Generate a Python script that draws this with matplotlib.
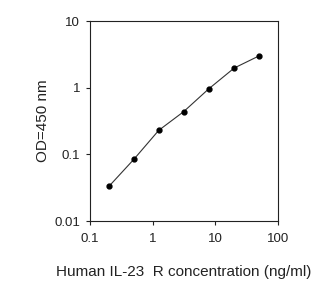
import matplotlib
matplotlib.use("Agg")
import matplotlib.pyplot as plt
from matplotlib.ticker import FixedLocator, NullLocator

conc = [0.2, 0.5, 1.25, 3.125, 7.8, 20, 50]
od = [0.033, 0.084, 0.229, 0.437, 0.955, 1.97, 3.0]
xticks = [0.1, 1, 10, 100]
xtick_labels = ["0.1", "1", "10", "100"]
yticks = [0.01, 0.1, 1, 10]
ytick_labels = ["0.01", "0.1", "1", "10"]

plt.rcParams["font.family"] = ["Liberation Sans", "DejaVu Sans"]

fig = plt.figure(figsize=(3.34, 2.91), dpi=100)
ax = fig.add_axes([90 / 334, 1 - 221 / 291, 188 / 334, 200 / 291])
ax.plot(conc, od, color="#333333", linewidth=0.8, marker="o", markersize=3.5,
        markerfacecolor="black", markeredgecolor="black")
ax.set_xscale("log")
ax.set_yscale("log")
ax.set_xlim(0.1, 100)
ax.set_ylim(0.01, 10)
ax.xaxis.set_major_locator(FixedLocator(xticks))
ax.yaxis.set_major_locator(FixedLocator(yticks))
ax.xaxis.set_minor_locator(NullLocator())
ax.yaxis.set_minor_locator(NullLocator())
ax.set_xticklabels(xtick_labels)
ax.set_yticklabels(ytick_labels)
ax.tick_params(direction="out", length=3, width=0.8, labelsize=9.5,
               top=False, right=False, colors="#222222")
ax.tick_params(axis="x", pad=5.5)
ax.tick_params(axis="y", pad=4)
for s in ax.spines.values():
    s.set_linewidth(0.8)
    s.set_color("#222222")
ax.set_ylabel("OD=450 nm", fontsize=11, labelpad=3.5, color="#222222")
ax.set_xlabel("Human IL-23  R concentration (ng/ml)", fontsize=11, labelpad=14.5,
              color="#222222")
fig.savefig("out.png", dpi=100)
